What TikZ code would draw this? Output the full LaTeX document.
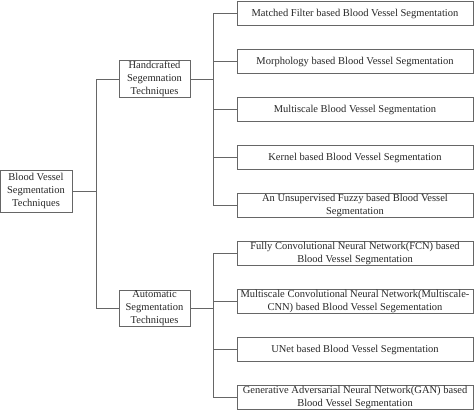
\documentclass[tikz,border=0pt]{standalone}
\usepackage{fontspec}
\setmainfont{Liberation Serif}
\usetikzlibrary{positioning}
\tikzset{edge/.style = {draw=black!60, line width=0.6pt}}

\begin{document}
\begin{tikzpicture}[x=1pt,y=1pt,node distance=48pt,
  box/.style={rectangle,draw=black!60,line width=0.6pt,align=center,text=black!85,font=\fontsize{10.5}{13}\selectfont},
  main node/.style={box,minimum width=72pt,minimum height=42pt,inner sep=1pt},
  mid node/.style={box,minimum width=71pt,minimum height=36pt,inner sep=0.5pt},
  leaf node/.style={box,minimum width=236pt,minimum height=24pt,inner xsep=1pt,inner ysep=0pt}]
  \useasboundingbox (0,0) rectangle (474,-411);

  \node[main node] (1) at (36,-191) {Blood Vessel\\Segmentation\\Techniques};
  \node[mid node] (2) at (154.5,-79) {Handcrafted\\Segemnation\\Techniques};
  \node[mid node] (3) at (154.5,-308) {Automatic\\Segmentation\\Techniques};

  \node[leaf node] (4) at (355,-13.5) {Matched Filter based Blood Vessel Segmentation};
  \node[leaf node] (5) [below of=4] {Morphology based Blood Vessel Segmentation};
  \node[leaf node] (6) [below of=5] {Multiscale Blood Vessel Segmentation};
  \node[leaf node] (7) [below of=6] {Kernel based Blood Vessel Segmentation};
  \node[leaf node] (8) [below of=7] {An Unsupervised Fuzzy based Blood Vessel\\Segmentation};
  \node[leaf node] (9) [below of=8] {Fully Convolutional Neural Network(FCN) based\\Blood Vessel Segmentation};
  \node[leaf node] (10) [below of=9] {Multiscale Convolutional Neural Network(Multiscale-\\CNN) based Blood Vessel Segementation};
  \node[leaf node] (11) [below of=10] {UNet based Blood Vessel Segmentation};
  \node[leaf node] (12) [below of=11] {Generative Adversarial Neural Network(GAN) based\\Blood Vessel Segmentation};

  \draw[edge] (1.east) -- ++(24,0) coordinate (t);
  \draw[edge] (t) |- (2.west);
  \draw[edge] (t) |- (3.west);

  \draw[edge] (2.east) -- ++(22.5,0) coordinate (h);
  \foreach \n in {4,...,8}
    \draw[edge] (h) |- (\n.west);

  \draw[edge] (3.east) -- ++(22.5,0) coordinate (a);
  \foreach \n in {9,...,12}
    \draw[edge] (a) |- (\n.west);
\end{tikzpicture}
\end{document}
